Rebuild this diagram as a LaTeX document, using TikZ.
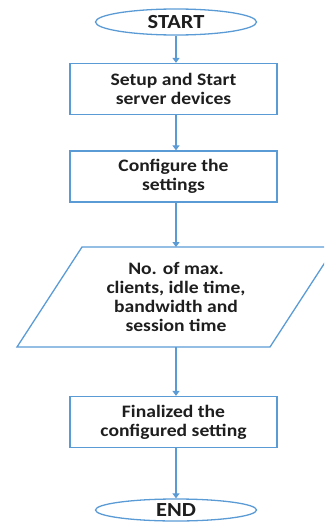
\documentclass[tikz,border=0pt]{standalone}
\usepackage{fontspec}
\setmainfont{Carlito}[FakeStretch=1.12]
\usetikzlibrary{shapes.geometric,arrows.meta}
\definecolor{flowblue}{HTML}{5B9BD5}
\definecolor{flowtext}{HTML}{1E1E1E}
\tikzset{
  flowline/.style={draw=flowblue,line width=1.3pt},
  flowarrow/.style={flowline,-{Triangle[width=7pt,length=5pt]}},
  terminal/.style={ellipse,flowline,minimum width=161pt,minimum height=26pt,inner sep=0pt,
    font=\bfseries\fontsize{20}{20}\selectfont,text=flowtext},
  process/.style={rectangle,flowline,minimum width=207pt,minimum height=51pt,inner sep=0pt,
    align=center,font=\bfseries\fontsize{17.5}{19}\selectfont,text=flowtext},
  label/.style={align=center,font=\bfseries\fontsize{17.5}{19}\selectfont,text=flowtext}
}
\begin{document}
\begin{tikzpicture}[x=1pt,y=-1pt]
  \useasboundingbox (0,0) rectangle (324,522);
  \begin{scope}
    \clip (0,0) rectangle (324,522);
    \node[terminal] (start) at (176,22) {START};
    \node[process] (setup) at (173.5,89) {Setup and Start\\server devices};
    \node[process] (config) at (173.5,176.5) {Configure the\\settings};
    % input parallelogram
    \draw[flowline] (82,247) -- (335,247) -- (270,347) -- (17,347) -- cycle;
    \coordinate (ptop) at (176,247);
    \coordinate (pbot) at (176,347);
    \node[label] (params) at (176,297) {No. of max.\\clients, idle time,\\bandwidth and\\session time};
    \node[process] (final) at (173.5,422) {Finalized the\\configured setting};
    \node[terminal,minimum height=22pt] (end) at (176,510) {END};
    \draw[flowarrow] (start) -- (start |- setup.north);
    \draw[flowarrow] (setup.south -| start) -- (start |- config.north);
    \draw[flowarrow] (config.south -| start) -- (ptop);
    \draw[flowarrow] (pbot) -- (start |- final.north);
    \draw[flowarrow] (final.south -| start) -- (end);
  \end{scope}
\end{tikzpicture}
\end{document}
